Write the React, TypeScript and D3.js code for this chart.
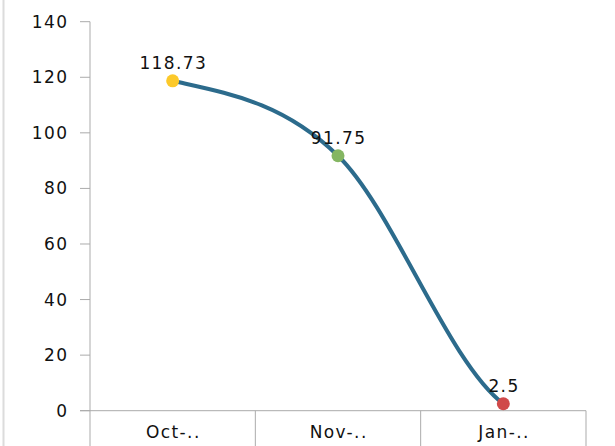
import * as d3 from 'd3';

const categories = ['Oct-..', 'Nov-..', 'Jan-..'];
const values = [118.73, 91.75, 2.5];
const valueLabels = ['118.73', '91.75', '2.5'];
const pointColors = ['#fcc92a', '#84b662', '#d04a4a'];
const yTicks = [0, 20, 40, 60, 80, 100, 120, 140];

const W = 615, H = 446;
const FONT = '"DejaVu Sans", Verdana, sans-serif';
const AXIS = '#ababab';
const LS = 1.4;

// smooth line: x linear per segment, Catmull-Rom style slopes, half secant at the ends
function smoothPath(pts: [number, number][]) {
  const p = d3.path();
  const n = pts.length;
  const m = pts.map((pt, i) => {
    if (i === 0) return (pts[1][1] - pt[1]) / (pts[1][0] - pt[0]) / 2;
    if (i === n - 1) return (pt[1] - pts[i - 1][1]) / (pt[0] - pts[i - 1][0]) / 2;
    return (pts[i + 1][1] - pts[i - 1][1]) / (pts[i + 1][0] - pts[i - 1][0]);
  });
  p.moveTo(pts[0][0], pts[0][1]);
  for (let i = 0; i < n - 1; i++) {
    const h = (pts[i + 1][0] - pts[i][0]) / 3;
    p.bezierCurveTo(pts[i][0] + h, pts[i][1] + m[i] * h,
      pts[i + 1][0] - h, pts[i + 1][1] - m[i + 1] * h,
      pts[i + 1][0], pts[i + 1][1]);
  }
  return p.toString();
}

export default function App() {
  const x = d3.scaleBand<string>().domain(categories).range([90, 586]);
  const y = d3.scaleLinear().domain([0, 140]).range([410.7, 21.7]);
  const cx = (c: string) => (x(c) ?? 0) + x.bandwidth() / 2;

  const pts = values.map((v, i) => [cx(categories[i]), y(v)] as [number, number]);

  return (
    <svg width={W} height={H} style={{ position: 'absolute', left: 0, top: 0, background: '#fff' }}>
      {/* frame edge on the left */}
      <line x1={3.5} x2={3.5} y1={0} y2={H} stroke="#dcdcdc" strokeWidth={2} />

      {/* y axis */}
      <line x1={90} x2={90} y1={y(140)} y2={H} stroke={AXIS} strokeWidth={1} />
      {yTicks.map(t => (
        <g key={t}>
          <line x1={80} x2={90} y1={y(t)} y2={y(t)} stroke={AXIS} />
          <text x={67 + LS} y={y(t)} textAnchor="end" dominantBaseline="central" letterSpacing={LS}
            fontFamily={FONT} fontSize={17} fill="#111">{t}</text>
        </g>
      ))}

      {/* x axis */}
      <line x1={80} x2={586} y1={y(0)} y2={y(0)} stroke={AXIS} />
      {categories.map(c => (
        <g key={c}>
          <line x1={(x(c) ?? 0) + x.bandwidth()} x2={(x(c) ?? 0) + x.bandwidth()} y1={y(0)} y2={H} stroke={AXIS} />
          <text x={cx(c) + LS / 2} y={438} textAnchor="middle" letterSpacing={LS}
            fontFamily={FONT} fontSize={17} fill="#111">{c}</text>
        </g>
      ))}

      {/* series */}
      <path d={smoothPath(pts)} fill="none" stroke="#2c6b8c" strokeWidth={4} />
      {values.map((v, i) => (
        <g key={i}>
          <circle cx={pts[i][0]} cy={pts[i][1]} r={6.5} fill={pointColors[i]} />
          <text x={pts[i][0] + LS / 2} y={pts[i][1] - 12} textAnchor="middle" letterSpacing={LS}
            fontFamily={FONT} fontSize={17} fill="#111">{valueLabels[i]}</text>
        </g>
      ))}
    </svg>
  );
}
